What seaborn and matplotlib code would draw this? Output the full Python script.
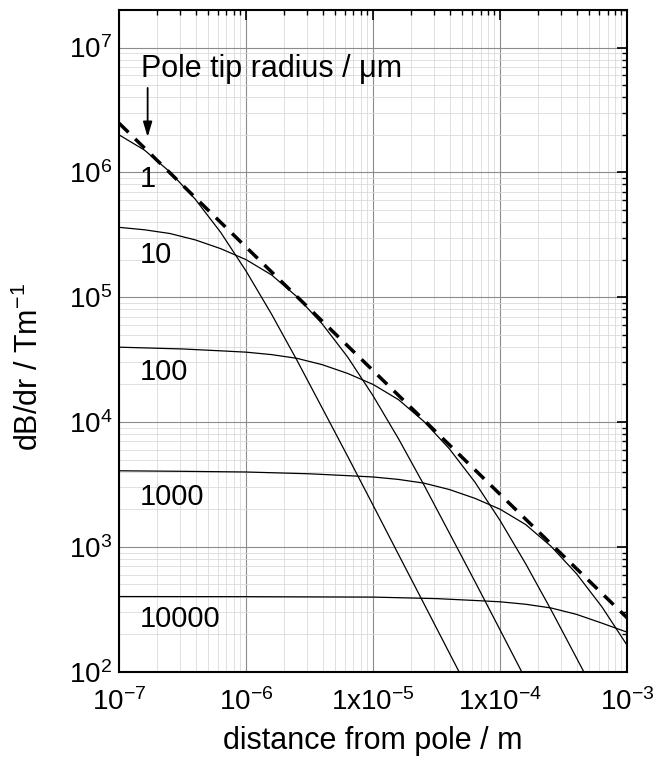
import matplotlib
matplotlib.use("Agg")
import matplotlib.pyplot as plt
import numpy as np
import pandas as pd
import seaborn as sns
from matplotlib.ticker import LogLocator, FixedLocator, NullFormatter

# ---------------- data ----------------
radii_um = [1, 10, 100, 1000, 10000]

r_1 = [1.0e-7, 1.585e-7, 2.512e-7, 3.981e-7, 6.310e-7, 1.0e-6, 1.585e-6,
       2.512e-6, 3.981e-6, 6.310e-6, 1.0e-5, 1.585e-5, 2.512e-5, 3.981e-5, 6.310e-5]
B_1 = [2.00e6, 1.51e6, 1.01e6, 6.10e5, 3.31e5, 1.62e5, 7.33e4,
       3.13e4, 1.29e4, 5.30e3, 2.15e3, 867, 350, 141, 57]

r_10 = [1.0e-7, 1.585e-7, 2.512e-7, 3.981e-7, 6.310e-7, 1.0e-6, 1.585e-6,
        2.512e-6, 3.981e-6, 6.310e-6, 1.0e-5, 1.585e-5, 2.512e-5, 3.981e-5,
        6.310e-5, 1.0e-4, 1.585e-4]
B_10 = [3.63e5, 3.47e5, 3.24e5, 2.88e5, 2.45e5, 2.00e5, 1.51e5,
        1.01e5, 6.10e4, 3.31e4, 1.62e4, 7.33e3, 3.13e3, 1.29e3,
        530, 215, 86.7]

r_100 = [1.0e-7, 3.162e-7, 6.310e-7, 1.0e-6, 1.585e-6, 2.512e-6, 3.981e-6,
         6.310e-6, 1.0e-5, 1.585e-5, 2.512e-5, 3.981e-5, 6.310e-5, 1.0e-4,
         1.585e-4, 2.512e-4, 3.981e-4, 6.310e-4]
B_100 = [3.98e4, 3.85e4, 3.72e4, 3.63e4, 3.47e4, 3.24e4, 2.88e4,
         2.45e4, 2.00e4, 1.51e4, 1.01e4, 6.10e3, 3.31e3, 1.62e3,
         733, 313, 129, 53]

r_1000 = [1.0e-7, 3.162e-7, 1.0e-6, 3.162e-6, 6.310e-6, 1.0e-5, 1.585e-5,
          2.512e-5, 3.981e-5, 6.310e-5, 1.0e-4, 1.585e-4, 2.512e-4, 3.981e-4,
          6.310e-4, 1.0e-3]
B_1000 = [4.07e3, 4.03e3, 3.98e3, 3.85e3, 3.72e3, 3.63e3, 3.47e3,
          3.24e3, 2.88e3, 2.45e3, 2.00e3, 1.51e3, 1.01e3, 610,
          331, 162]

r_10000 = [1.0e-7, 1.0e-6, 1.0e-5, 3.162e-5, 6.310e-5, 1.0e-4, 1.585e-4,
           2.512e-4, 3.981e-4, 6.310e-4, 1.0e-3]
B_10000 = [400, 399, 396, 385, 372, 363, 347, 324, 288, 245, 207]

envelope_r = [1e-7, 1e-6, 1e-5, 1e-4, 1e-3]
envelope_B = [2.48e6, 2.52e5, 2.58e4, 2.63e3, 2.69e2]

x_ticks = [1e-7, 1e-6, 1e-5, 1e-4, 1e-3]
x_tick_labels = [r"$\mathregular{10^{-7}}$", r"$\mathregular{10^{-6}}$",
                 r"$\mathregular{1x10^{-5}}$", r"$\mathregular{1x10^{-4}}$",
                 r"$\mathregular{10^{-3}}$"]
y_ticks = [1e2, 1e3, 1e4, 1e5, 1e6, 1e7]
y_tick_labels = [r"$\mathregular{10^{2}}$", r"$\mathregular{10^{3}}$",
                 r"$\mathregular{10^{4}}$", r"$\mathregular{10^{5}}$",
                 r"$\mathregular{10^{6}}$", r"$\mathregular{10^{7}}$"]

# ---------------- style ----------------
sns.set_style("white")
plt.rcParams["font.family"] = ["Liberation Sans", "DejaVu Sans"]
plt.rcParams["mathtext.default"] = "regular"
for key in ("text.color", "axes.labelcolor", "xtick.color", "ytick.color"):
    plt.rcParams[key] = "black"

curve_data = {1: (r_1, B_1), 10: (r_10, B_10), 100: (r_100, B_100),
              1000: (r_1000, B_1000), 10000: (r_10000, B_10000)}
rows = []
for rad in radii_um:
    rs, bs = curve_data[rad]
    for r, b in zip(rs, bs):
        rows.append((rad, r, b))
df = pd.DataFrame(rows, columns=["radius", "r", "B"])
env = pd.DataFrame({"r": envelope_r, "B": envelope_B})

fig = plt.figure(figsize=(6.63, 7.68), dpi=100)
ax = fig.add_axes([119 / 663, 1 - 671.7 / 768, 508.3 / 663, 661.7 / 768])
ax.set_xscale("log")
ax.set_yscale("log")

sns.lineplot(data=df, x="r", y="B", units="radius", estimator=None,
             color="black", lw=0.9, ax=ax, legend=False)
sns.lineplot(data=env, x="r", y="B", color="black", lw=2.5, ax=ax, legend=False)
ax.lines[-1].set_dashes((3.8, 2.7))

ax.set_xlim(1e-7, 1e-3)
ax.set_ylim(1e2, 2e7)

ax.xaxis.set_major_locator(FixedLocator(x_ticks))
ax.set_xticklabels(x_tick_labels)
ax.yaxis.set_major_locator(FixedLocator(y_ticks))
ax.set_yticklabels(y_tick_labels)
for axis in (ax.xaxis, ax.yaxis):
    axis.set_minor_locator(LogLocator(base=10, subs=np.arange(2, 10), numticks=30))
    axis.set_minor_formatter(NullFormatter())

ax.set_axisbelow(True)
ax.grid(which="major", color="#8c8c8c", lw=0.8)
ax.grid(which="minor", color="#dadada", lw=0.6)

ax.tick_params(which="both", direction="in", top=True, right=True, colors="black")
ax.tick_params(which="major", length=7.5, width=1.2, labelsize=20)
ax.tick_params(axis="x", which="major", pad=12)
ax.tick_params(axis="y", which="major", pad=5)
ax.tick_params(which="minor", length=3.6, width=1.0)
for s in ax.spines.values():
    s.set_linewidth(1.5)
    s.set_color("black")

ax.set_xlabel("distance from pole / m", fontsize=22)
ax.xaxis.set_label_coords(0.5, -0.0815)
ax.set_ylabel(r"dB/dr / Tm$^{-1}$", fontsize=22, rotation=90,
              rotation_mode="default", ha="center", va="center")
ax.yaxis.set_label_coords((29 - 119) / 508.3, (671.7 - 367) / 661.7)

# curve labels
label_pos = {1: 7.7e5, 10: 1.88e5, 100: 2.17e4, 1000: 2.17e3, 10000: 228}
for rad in radii_um:
    ax.text(1.45e-7, label_pos[rad], str(rad), fontsize=21, ha="left", va="baseline")
ax.text(1.49e-7, 5.82e6, "Pole tip radius / μm", fontsize=22, ha="left", va="baseline")
ax.annotate("", xy=(1.68e-7, 1.92e6), xytext=(1.68e-7, 4.75e6),
            arrowprops=dict(arrowstyle="-|>,head_length=0.6,head_width=0.18",
                            lw=1.3, color="black", mutation_scale=15,
                            shrinkA=0, shrinkB=0))

fig.savefig("out.png", dpi=100)
